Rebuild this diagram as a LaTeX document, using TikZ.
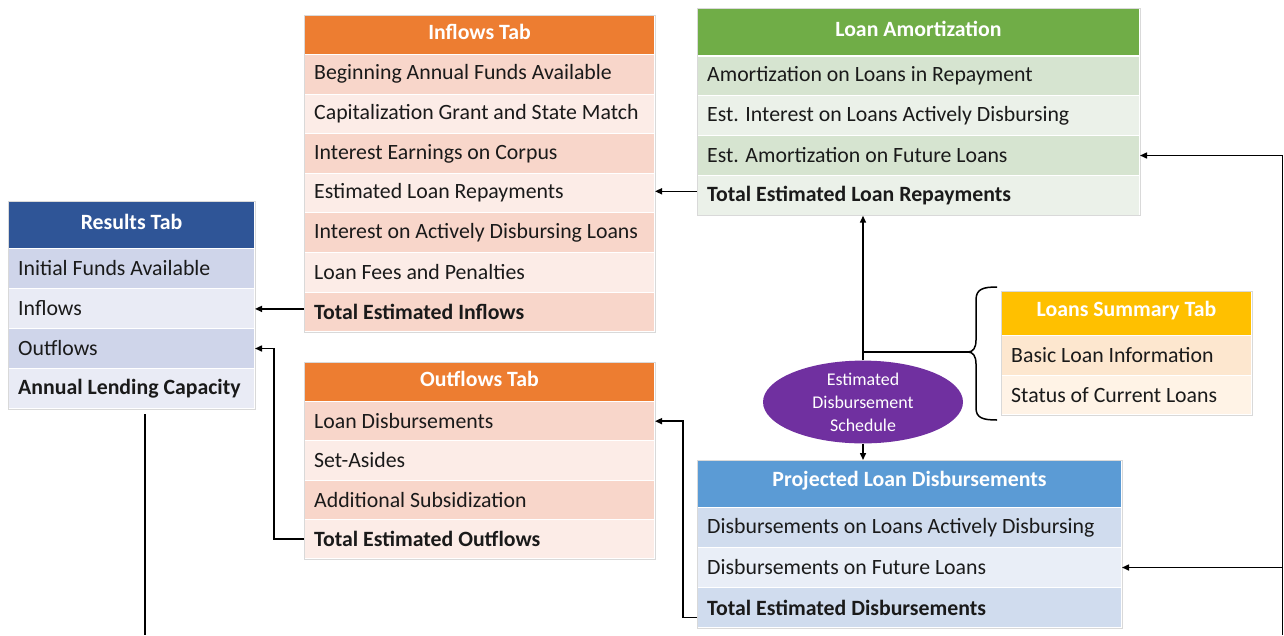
\documentclass[tikz,border=0pt]{standalone}
\usepackage{fontspec}
\setmainfont{Carlito}
\usetikzlibrary{arrows.meta,shapes.geometric}
\definecolor{rsH}{HTML}{2F5597}\definecolor{rsA}{HTML}{CFD5EA}\definecolor{rsB}{HTML}{E9EBF5}
\definecolor{orH}{HTML}{ED7D31}\definecolor{orA}{HTML}{F8D6CA}\definecolor{orB}{HTML}{FCECE7}
\definecolor{grH}{HTML}{70AD47}\definecolor{grA}{HTML}{D6E4D0}\definecolor{grB}{HTML}{EBF1E9}
\definecolor{yeH}{HTML}{FFC000}\definecolor{yeA}{HTML}{FDE7CF}\definecolor{yeB}{HTML}{FFF3E6}
\definecolor{blH}{HTML}{5B9BD5}\definecolor{blA}{HTML}{D0DCEE}\definecolor{blB}{HTML}{E9EEF7}
\definecolor{puE}{HTML}{7030A0}
\definecolor{txtc}{HTML}{1A1A1A}
\tikzset{
  rowst/.style={rectangle,draw=white,line width=1pt,anchor=north west,inner sep=0pt},
  rowtxt/.style={anchor=west,inner sep=0pt,text=txtc,font=\fontsize{21.8}{26}\selectfont},
  headtxt/.style={inner sep=0pt,text=white,font=\fontsize{21.8}{26}\selectfont\bfseries},
  frame/.style={draw=black!15,line width=0.8pt},
  arr/.style={line width=1.5pt,-{Triangle[width=6pt,length=7pt]}},
  ln/.style={line width=1.5pt},
}
\newcommand\mkrow[7]{%
  \node[rowst,fill=#6,minimum width=#4pt,minimum height=#5pt] (#1) at (#2,#3) {};
  \node[rowtxt] at ([xshift=10pt]#1.west) {#7};}
\newcommand\mkhead[7]{%
  \node[rowst,fill=#6,minimum width=#4pt,minimum height=#5pt] (#1) at (#2,#3) {};
  \node[headtxt] at ([yshift=3pt]#1.center) {#7};}
\begin{document}
\begin{tikzpicture}[x=1pt,y=-1pt]
\useasboundingbox (0,0) rectangle (1284,635);
% Results Tab
\mkhead{rsh}{8}{201}{246}{47}{rsH}{Results Tab}
\mkrow{rs1}{8}{248}{246}{40}{rsA}{Initial Funds Available}
\mkrow{rs2}{8}{288}{246}{40}{rsB}{Inflows}
\mkrow{rs3}{8}{328}{246}{40}{rsA}{Outflows}
\mkrow{rs4}{8}{368}{246}{40}{rsB}{\bfseries Annual Lending Capacity}
\draw[frame] (rsh.north west) rectangle (rs4.south east);
% Inflows Tab
\mkhead{inh}{304}{15}{350}{39}{orH}{Inflows Tab}
\mkrow{in1}{304}{54}{350}{39.6}{orA}{Beginning Annual Funds Available}
\mkrow{in2}{304}{93.6}{350}{39.6}{orB}{Capitalization Grant and State Match}
\mkrow{in3}{304}{133.2}{350}{39.6}{orA}{Interest Earnings on Corpus}
\mkrow{in4}{304}{172.8}{350}{39.6}{orB}{Estimated Loan Repayments}
\mkrow{in5}{304}{212.4}{350}{39.6}{orA}{Interest on Actively Disbursing Loans}
\mkrow{in6}{304}{252}{350}{39.6}{orB}{Loan Fees and Penalties}
\mkrow{in7}{304}{291.6}{350}{39.6}{orA}{\bfseries Total Estimated Inflows}
\draw[frame] (inh.north west) rectangle (in7.south east);
% Outflows Tab
\mkhead{ofh}{304}{362}{350}{39}{orH}{Outflows Tab}
\mkrow{of1}{304}{401}{350}{39.3}{orA}{Loan Disbursements}
\mkrow{of2}{304}{440.3}{350}{39.3}{orB}{Set-Asides}
\mkrow{of3}{304}{479.6}{350}{39.3}{orA}{Additional Subsidization}
\mkrow{of4}{304}{518.9}{350}{39.3}{orB}{\bfseries Total Estimated Outflows}
\draw[frame] (ofh.north west) rectangle (of4.south east);
% Loan Amortization
\mkhead{lah}{697}{8}{442}{47}{grH}{Loan Amortization}
\mkrow{la1}{697}{55.5}{442}{39.8}{grA}{Amortization on Loans in Repayment}
\mkrow{la2}{697}{95.3}{442}{39.8}{grB}{Est. Interest on Loans Actively Disbursing}
\mkrow{la3}{697}{135.1}{442}{39.8}{grA}{Est. Amortization on Future Loans}
\mkrow{la4}{697}{174.9}{442}{39.8}{grB}{\bfseries Total Estimated Loan Repayments}
\draw[frame] (lah.north west) rectangle (la4.south east);
% Loans Summary Tab
\mkhead{lsh}{1001}{291}{250}{44}{yeH}{Loans Summary Tab}
\mkrow{ls1}{1001}{335}{250}{39.5}{yeA}{Basic Loan Information}
\mkrow{ls2}{1001}{374.5}{250}{39.5}{yeB}{Status of Current Loans}
\draw[frame] (lsh.north west) rectangle (ls2.south east);
% Projected Loan Disbursements
\mkhead{pjh}{697}{460}{424}{47}{blH}{Projected Loan Disbursements}
\mkrow{pj1}{697}{507}{424}{40}{blA}{Disbursements on Loans Actively Disbursing}
\mkrow{pj2}{697}{547}{424}{40}{blB}{Disbursements on Future Loans}
\mkrow{pj3}{697}{587}{424}{40}{blA}{\bfseries Total Estimated Disbursements}
\draw[frame] (pjh.north west) rectangle (pj3.south east);
% Ellipse
\node[ellipse,fill=puE,minimum width=200pt,minimum height=72pt,inner sep=0pt,
  text=white,align=center,font=\fontsize{17.9}{23}\selectfont] (ell) at (863,402)
  {Estimated\\Disbursement\\Schedule};
% Brace
\coordinate (btip) at (968,352);
\draw[ln] (997,287) .. controls (983,287) and (976,289) .. (976,300) -- (976,340)
  .. controls (976,348) and (973,352) .. (btip)
  .. controls (973,352) and (976,356) .. (976,364) -- (976,408)
  .. controls (976,418) and (983,420) .. (997,420);
% Connectors
\coordinate (jn) at (863,352);
\draw[arr] (ell.north) -- (ell.north |- la4.south);
\draw[ln] (jn) -- (btip);
\draw[arr] (ell.south) -- (ell.south |- pjh.north);
\draw[arr] ([yshift=4pt]la4.west) -- ([yshift=4pt]la4.west -| in4.east);
\draw[arr] ([yshift=3pt]in7.west) -- ([yshift=3pt]in7.west -| rs2.east);
\draw[arr] (of4.west) -- ++(-30,0) |- (rs3.east);
\draw[arr] ([yshift=-10pt]pj3.west) -- ++(-14,0) |- (of1.east);
\coordinate (rb) at (1282.5,635);
\draw[arr] (rb) |- (la3.east);
\draw[arr] (rb |- pj2.east) -- (pj2.east);
\coordinate (rsb) at (145,635);
\draw[ln] ([yshift=-5pt]rs4.south -| rsb) -- (rsb);
\end{tikzpicture}
\end{document}
